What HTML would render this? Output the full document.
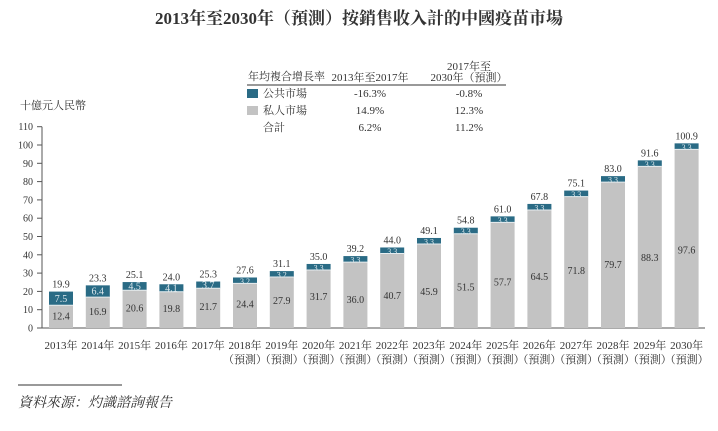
<!DOCTYPE html>
<html><head><meta charset="utf-8">
<style>
body{margin:0;background:#fff;}
svg text{font-family:"Liberation Serif","Noto Serif CJK SC","Noto Sans CJK TC",serif;fill:#333;}
</style></head>
<body>
<svg width="718" height="426" xmlns="http://www.w3.org/2000/svg">
<text x="359" y="24" text-anchor="middle" font-size="17" font-weight="bold" fill="#222">2013年至2030年（預測）按銷售收入計的中國疫苗市場</text>
<g font-size="11">
<text x="469" y="70" text-anchor="middle">2017年至</text>
<text x="248" y="80">年均複合增長率</text>
<text x="370" y="81" text-anchor="middle">2013年至2017年</text>
<text x="469" y="81" text-anchor="middle">2030年（預測）</text>
<line x1="247" y1="85" x2="506" y2="85" stroke="#333" stroke-width="1"/>
<rect x="247" y="89" width="11" height="9" fill="#2a6b85"/>
<text x="263" y="97">公共市場</text>
<text x="370" y="97" text-anchor="middle">-16.3%</text>
<text x="469" y="97" text-anchor="middle">-0.8%</text>
<rect x="247" y="106" width="11" height="9" fill="#c3c3c3"/>
<text x="263" y="114">私人市場</text>
<text x="370" y="114" text-anchor="middle">14.9%</text>
<text x="469" y="114" text-anchor="middle">12.3%</text>
<text x="263" y="131">合計</text>
<text x="370" y="131" text-anchor="middle">6.2%</text>
<text x="469" y="131" text-anchor="middle">11.2%</text>
</g>
<text x="20" y="109" font-size="11">十億元人民幣</text>
<g id="axes"></g>
<g id="bars"></g>
<line x1="18" y1="385" x2="122" y2="385" stroke="#333" stroke-width="1"/>
<text x="18" y="407" font-size="14" font-style="italic">資料來源：灼識諮詢報告</text>
</svg>
<script>
const categories=["2013年","2014年","2015年","2016年","2017年","2018年","2019年","2020年","2021年","2022年","2023年","2024年","2025年","2026年","2027年","2028年","2029年","2030年"];
const forecast=[0,0,0,0,0,1,1,1,1,1,1,1,1,1,1,1,1,1];
const privateVals=[12.4,16.9,20.6,19.8,21.7,24.4,27.9,31.7,36.0,40.7,45.9,51.5,57.7,64.5,71.8,79.7,88.3,97.6];
const publicVals=[7.5,6.4,4.5,4.1,3.7,3.2,3.2,3.3,3.3,3.3,3.3,3.3,3.3,3.3,3.3,3.3,3.3,3.3];
const totals=[19.9,23.3,25.1,24.0,25.3,27.6,31.1,35.0,39.2,44.0,49.1,54.8,61.0,67.8,75.1,83.0,91.6,100.9];
const yTicks=[0,10,20,30,40,50,60,70,80,90,100,110];
const NS="http://www.w3.org/2000/svg";
const y0=328,pxPer=1.83,x0=61,step=36.8,bw=24;
const Y=v=>y0-v*pxPer, X=i=>x0+i*step;
function mk(tag,attrs,parent,txt){const e=document.createElementNS(NS,tag);for(const k in attrs)e.setAttribute(k,attrs[k]);if(txt!==undefined)e.textContent=txt;parent.appendChild(e);return e;}
const ax=document.getElementById('axes'),bg=document.getElementById('bars');
const yl=mk('line',{x1:42,y1:Y(110),x2:42,y2:y0,stroke:'#555'},ax);


const xl=mk('line',{x1:42,y1:y0,x2:705,y2:y0,stroke:'#555'},ax);


yTicks.forEach(t=>{
 mk('line',{x1:37,y1:Y(t),x2:42,y2:Y(t),stroke:'#555'},ax);
 const tx=mk('text',{x:33,y:Y(t)+3.5,'text-anchor':'end','font-size':10},ax,t);
 
 
});
categories.forEach((c,i)=>{
 const cx=X(i),p=privateVals[i],q=publicVals[i];
 const r1=mk('rect',{x:cx-bw/2,y:Y(p),width:bw,height:p*pxPer,fill:'#c3c3c3'},bg);
 
 
 const r2=mk('rect',{x:cx-bw/2,y:Y(p+q),width:bw,height:q*pxPer,fill:'#2a6b85'},bg);
 
 
 mk('line',{x1:cx-bw/2,y1:Y(p),x2:cx+bw/2,y2:Y(p),stroke:'#e8eef0','stroke-width':1},bg);
 const h=p*pxPer;
 const lp=mk('text',{x:cx,y:y0-h*(h>60?0.44:0.55)+4,'text-anchor':'middle','font-size':10},bg,p.toFixed(1));
 
 
 const lq=mk('text',{x:cx,y:Y(p+q/2)+3.5,'text-anchor':'middle','font-size':q>3.5?10:8},bg,q.toFixed(1));
 lq.style.fill='#dbe7ec';
 
 
 const lt=mk('text',{x:cx,y:Y(p+q)-4,'text-anchor':'middle','font-size':10},bg,totals[i].toFixed(1));
 
 
 const cl=mk('text',{x:cx,y:349,'text-anchor':'middle','font-size':11},bg,c);
 
 
 if(forecast[i]){const f=mk('text',{x:cx,y:363,'text-anchor':'middle','font-size':11},bg,'（預測）');
 
 }
});
</script>
</body></html>
